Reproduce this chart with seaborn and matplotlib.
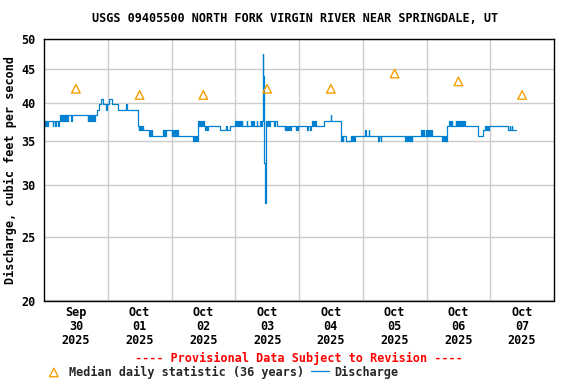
import pandas as pd
import seaborn as sns
import matplotlib.pyplot as plt
import matplotlib.dates as mdates
from matplotlib.ticker import FixedLocator, FixedFormatter, NullLocator

title = "USGS 09405500 NORTH FORK VIRGIN RIVER NEAR SPRINGDALE, UT"
start = pd.Timestamp("2025-09-30 00:00")
end = pd.Timestamp("2025-10-08 00:00")

day_labels = ["Sep\n30\n2025", "Oct\n01\n2025", "Oct\n02\n2025", "Oct\n03\n2025",
              "Oct\n04\n2025", "Oct\n05\n2025", "Oct\n06\n2025", "Oct\n07\n2025"]

# median daily statistic (36 years), one per day
median_cfs = [42.0, 41.1, 41.1, 42.0, 42.0, 44.3, 43.1, 41.1]

y_ticks = [20, 25, 30, 35, 40, 45, 50]

# discharge: (hours since Sep 30 00:00, cfs), drawn as steps
discharge_steps = [
    (0.0, 37.5), (0.25, 36.9), (0.5, 37.5), (0.75, 36.9), (1.0, 37.5), (1.25, 36.9), (1.5, 37.5),
    (3.25, 36.9), (3.5, 37.5), (4.25, 36.9), (4.5, 37.5), (5.25, 36.9), (5.5, 37.5),
    (5.9, 38.3), (6.25, 37.5), (6.5, 38.3), (6.75, 37.5), (7.0, 38.3), (7.25, 37.5), (7.5, 38.3),
    (7.75, 37.5), (8.0, 38.3), (8.25, 37.5), (8.5, 38.3), (8.75, 37.5), (9.0, 38.3),
    (10.25, 37.5), (10.5, 38.3),
    (16.5, 37.5), (16.75, 38.3), (17.0, 37.5), (17.25, 38.3), (17.5, 37.5), (17.75, 38.3),
    (18.0, 37.5), (18.25, 38.3), (18.5, 37.5), (18.75, 38.3), (19.0, 37.5), (19.25, 38.3),
    (19.9, 39.0), (20.6, 39.8), (21.3, 40.5), (22.2, 39.8), (23.4, 39.0), (23.65, 39.8),
    (24.4, 40.5), (25.6, 39.8), (27.8, 39.0), (31.0, 39.8), (31.25, 39.0),
    (35.4, 36.9), (35.65, 36.3), (35.9, 36.9), (36.15, 36.3), (36.4, 36.9), (36.65, 36.3),
    (36.9, 36.9), (37.1, 36.3),
    (39.5, 35.6), (39.75, 36.3), (40.0, 35.6), (40.25, 36.3), (40.5, 35.6),
    (44.8, 36.3), (45.05, 35.6), (45.3, 36.3), (45.55, 35.6), (45.8, 36.3),
    (48.0, 35.6), (48.25, 36.3), (48.5, 35.6), (48.75, 36.3), (49.0, 35.6), (49.25, 36.3),
    (49.5, 35.6), (49.75, 36.3), (50.0, 35.6), (50.25, 36.3), (50.5, 35.6),
    (56.1, 35.0), (56.35, 35.6), (56.6, 35.0), (56.85, 35.6), (57.1, 35.0), (57.35, 35.6), (57.6, 35.0),
    (58.0, 37.5), (58.25, 36.9), (58.5, 37.5), (58.75, 36.9), (59.0, 37.5), (59.25, 36.9),
    (59.5, 37.5), (59.75, 36.9), (60.0, 37.5), (60.25, 36.9),
    (60.75, 36.3), (61.0, 36.9), (61.4, 36.3), (61.65, 36.9),
    (66.2, 36.3), (68.5, 36.9), (68.8, 36.3), (70.2, 36.9),
    (71.9, 37.5), (72.15, 36.9), (72.4, 37.5), (72.65, 36.9), (72.9, 37.5), (73.15, 36.9),
    (73.4, 37.5), (73.65, 36.9), (73.9, 37.5), (74.15, 36.9), (74.4, 37.5), (74.65, 36.9),
    (76.3, 37.5), (76.55, 36.9), (78.1, 37.5), (78.35, 36.9), (78.8, 37.5), (79.05, 36.9),
    (80.0, 37.5), (80.25, 36.9), (81.3, 37.5), (81.55, 36.9),
    (82.2, 37.5), (82.4, 47.4), (82.55, 43.9), (82.8, 37.5), (83.0, 32.4), (83.2, 28.1), (83.4, 37.5),
    (83.65, 36.9), (83.9, 37.5), (84.15, 36.9), (84.4, 37.5), (84.65, 36.9), (84.9, 37.5),
    (86.7, 36.9), (86.95, 37.5), (87.6, 36.9),
    (90.6, 36.3), (90.85, 36.9), (91.1, 36.3), (91.35, 36.9), (91.6, 36.3), (91.85, 36.9),
    (92.1, 36.3), (92.35, 36.9), (92.6, 36.3), (92.8, 36.9),
    (94.7, 36.3), (94.95, 36.9), (95.3, 36.3), (95.55, 36.9),
    (99.1, 36.3), (99.35, 36.9), (100.1, 36.3), (100.35, 36.9),
    (100.9, 37.5), (101.15, 36.9), (101.4, 37.5), (101.65, 36.9), (101.9, 37.5), (102.3, 36.9),
    (105.4, 37.5), (107.9, 38.3), (108.15, 37.5),
    (111.7, 35.6), (111.95, 35.0), (112.2, 35.6), (112.45, 35.0), (112.7, 35.6),
    (113.6, 35.0), (115.5, 35.6), (115.75, 35.0), (116.0, 35.6), (116.25, 35.0), (116.5, 35.6),
    (116.75, 35.0), (117.0, 35.6),
    (120.8, 36.3), (121.05, 35.6), (122.2, 36.3), (122.45, 35.6),
    (125.8, 35.0), (126.05, 35.6), (126.8, 35.0), (127.05, 35.6),
    (135.9, 35.0), (136.15, 35.6), (136.4, 35.0), (136.65, 35.6), (136.9, 35.0), (137.15, 35.6),
    (137.4, 35.0), (137.65, 35.6), (137.9, 35.0), (138.15, 35.6), (138.4, 35.0), (138.7, 35.6),
    (142.1, 36.3), (142.35, 35.6), (142.8, 36.3), (143.05, 35.6),
    (143.7, 36.3), (143.95, 35.6), (144.2, 36.3), (144.45, 35.6), (144.7, 36.3), (144.95, 35.6),
    (145.2, 36.3), (145.45, 35.6), (145.7, 36.3), (145.95, 35.6),
    (150.0, 35.0), (150.25, 35.6), (150.5, 35.0), (150.75, 35.6), (151.0, 35.0), (151.25, 35.6), (151.5, 35.0),
    (151.9, 36.9), (152.5, 37.5), (152.75, 36.9), (153.0, 37.5), (153.25, 36.9), (153.5, 37.5), (153.75, 36.9),
    (155.0, 37.5), (155.25, 36.9), (155.5, 37.5), (155.75, 36.9), (156.0, 37.5), (156.25, 36.9),
    (156.5, 37.5), (156.75, 36.9), (157.0, 37.5), (157.25, 36.9), (157.5, 37.5), (157.75, 36.9),
    (158.0, 37.5), (158.4, 36.9),
    (163.2, 35.6), (165.4, 36.3), (166.0, 36.9), (166.25, 36.3), (166.5, 36.9), (166.75, 36.3),
    (167.0, 36.9), (167.25, 36.3), (167.6, 36.9),
    (174.7, 36.3), (175.3, 36.9), (175.5, 36.3), (176.1, 36.9), (176.3, 36.3), (177.6, 36.3),
]

line_color = "#0080D0"
median_color = "#F5A000"

df = pd.DataFrame(discharge_steps, columns=["hours", "cfs"])
df["time"] = start + pd.to_timedelta(df["hours"], unit="h")

days = pd.date_range(start, periods=len(median_cfs), freq="D")
med = pd.DataFrame({"time": days + pd.Timedelta(hours=12), "cfs": median_cfs})

sns.set_theme(style="white")
plt.rcParams["font.family"] = ["DejaVu Sans Mono"]
plt.rcParams["font.weight"] = "bold"
fs = 8.5

fig = plt.figure(figsize=(5.76, 3.84), dpi=100)
ax = fig.add_axes([44 / 576, 1 - 300.5 / 384, 510 / 576, 261.5 / 384])

sns.scatterplot(data=med, x="time", y="cfs", ax=ax, marker="^", s=38,
                facecolor="none", edgecolor=median_color, linewidth=1,
                label="Median daily statistic (36 years)", zorder=3)
sns.lineplot(data=df, x="time", y="cfs", ax=ax, color=line_color, lw=0.9,
             drawstyle="steps-post", label="Discharge", zorder=2)

ax.set_yscale("log")
ax.set_ylim(20, 50)
ax.yaxis.set_major_locator(FixedLocator(y_ticks))
ax.yaxis.set_major_formatter(FixedFormatter([str(t) for t in y_ticks]))
ax.yaxis.set_minor_locator(NullLocator())

ax.set_xlim(start, end)
noon = [mdates.date2num(d + pd.Timedelta(hours=12)) for d in days]
midnight = [mdates.date2num(d) for d in days[1:]]
ax.xaxis.set_major_locator(FixedLocator(noon))
ax.xaxis.set_major_formatter(FixedFormatter(day_labels))
ax.xaxis.set_minor_locator(FixedLocator(midnight))

ax.grid(True, which="major", axis="y", color="#cccccc", lw=1)
ax.grid(True, which="minor", axis="x", color="#cccccc", lw=1)
ax.set_axisbelow(True)
ax.tick_params(which="both", length=0, labelsize=fs, colors="black")
ax.tick_params(axis="x", pad=4)
ax.tick_params(axis="y", pad=6)
for lab in ax.get_xticklabels() + ax.get_yticklabels():
    lab.set_fontweight("bold")
    lab.set_linespacing(1.1)
for sp in ax.spines.values():
    sp.set_color("black")
    sp.set_linewidth(1)

ax.set_xlabel("")
ax.set_ylabel("Discharge, cubic feet per second", fontsize=fs, fontweight="bold",
              color="black", labelpad=3)

fig.text(295 / 576, 1 - 19 / 384, title, ha="center", va="center",
         fontsize=fs, fontweight="bold", color="black")
fig.text(299 / 576, 1 - 358 / 384, "---- Provisional Data Subject to Revision ----",
         ha="center", va="center", fontsize=fs, color="red")

handles, labels = ax.get_legend_handles_labels()
if ax.get_legend() is not None:
    ax.get_legend().remove()
fig.legend(handles, labels, loc="center left", bbox_to_anchor=(45 / 576, 1 - 372 / 384),
           ncol=2, frameon=False, fontsize=fs, handlelength=1.5, handletextpad=0.5,
           columnspacing=0.6, borderpad=0, borderaxespad=0)

fig.savefig("out.png", dpi=100)
